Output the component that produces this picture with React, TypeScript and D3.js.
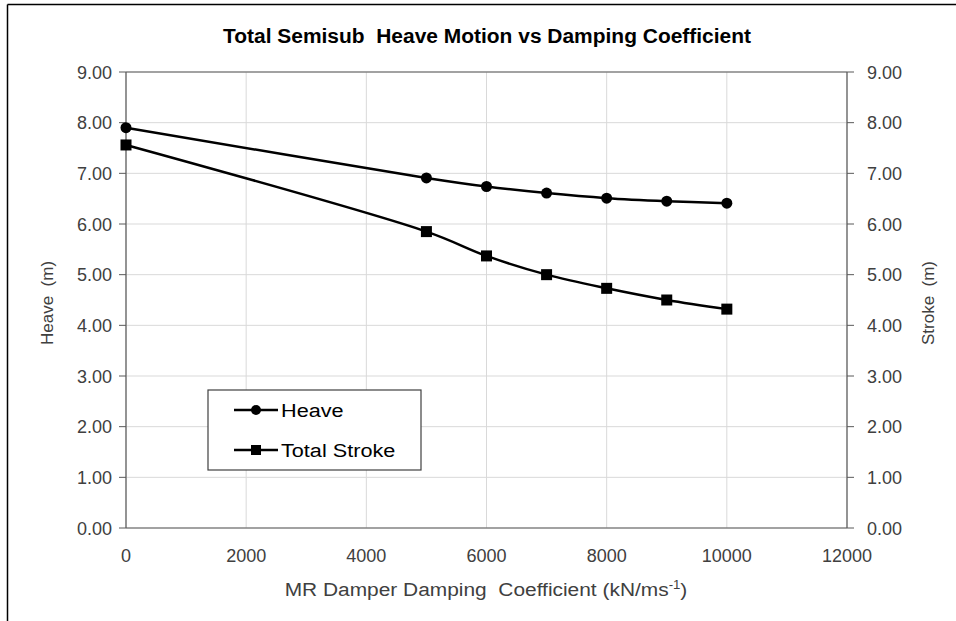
import React from "react";
import * as d3 from "d3";

const dampingCoeff = [0, 5000, 6000, 7000, 8000, 9000, 10000];
const heave = [7.9, 6.91, 6.74, 6.61, 6.51, 6.45, 6.41];
const totalStroke = [7.56, 5.85, 5.37, 5.0, 4.73, 4.5, 4.32];
const xTicks = [0, 2000, 4000, 6000, 8000, 10000, 12000];
const yTicks = [0, 1, 2, 3, 4, 5, 6, 7, 8, 9];

const W = 956;
const H = 621;
const left = 126;
const right = 847;
const top = 72;
const bottom = 528;
const font = "'Liberation Sans', Arial, sans-serif";
const axisColor = "#595959";
const gridColor = "#d9d9d9";
const textColor = "#404040";
const pre = { whiteSpace: "pre" as const };

export default function App() {
  const x = d3.scaleLinear().domain([0, 12000]).range([left, right]);
  const y = d3.scaleLinear().domain([0, 9]).range([bottom, top]);
  const line = d3
    .line<number>()
    .x((_, i) => x(dampingCoeff[i]))
    .y((v) => y(v))
    .curve(d3.curveCatmullRom.alpha(0.5));

  return (
    <svg
      width={W}
      height={H}
      style={{ position: "absolute", left: 0, top: 0, background: "#fff" }}
      fontFamily={font}
    >
      <rect x={0} y={0} width={W} height={H} fill="#fff" />
      {/* outer chart frame */}
      <line x1={7.5} y1={4.5} x2={W} y2={4.5} stroke="#000" strokeWidth={1.5} />
      <line x1={7.5} y1={4.5} x2={7.5} y2={H} stroke="#000" strokeWidth={1.5} />

      <text
        x={487}
        y={43}
        textAnchor="middle"
        fontSize={20}
        fontWeight="bold"
        fill="#000"
        textLength={528}
        lengthAdjust="spacingAndGlyphs"
        style={pre}
      >
        Total Semisub  Heave Motion vs Damping Coefficient
      </text>

      {/* grid */}
      {yTicks.map((t) => (
        <line key={"gy" + t} x1={left} x2={right} y1={y(t)} y2={y(t)} stroke={gridColor} strokeWidth={1} />
      ))}
      {xTicks.map((t) => (
        <line key={"gx" + t} x1={x(t)} x2={x(t)} y1={top} y2={bottom} stroke={gridColor} strokeWidth={1} />
      ))}

      {/* axes */}
      <line x1={left} x2={left} y1={top} y2={bottom} stroke={axisColor} strokeWidth={1.2} />
      <line x1={right} x2={right} y1={top} y2={bottom} stroke={axisColor} strokeWidth={1.2} />
      <line x1={left} x2={right} y1={top} y2={top} stroke={axisColor} strokeWidth={1.2} />
      <line x1={left} x2={right} y1={bottom} y2={bottom} stroke={axisColor} strokeWidth={1.2} />
      {yTicks.map((t) => (
        <g key={"ty" + t}>
          <line x1={left - 7} x2={left} y1={y(t)} y2={y(t)} stroke={axisColor} />
          <line x1={right} x2={right + 7} y1={y(t)} y2={y(t)} stroke={axisColor} />
          <text x={112} y={y(t) + 6.5} textAnchor="end" fontSize={18} fill={textColor}>
            {t.toFixed(2)}
          </text>
          <text x={867} y={y(t) + 6.5} textAnchor="start" fontSize={18} fill={textColor}>
            {t.toFixed(2)}
          </text>
        </g>
      ))}
      {xTicks.map((t) => (
        <text key={"tx" + t} x={x(t)} y={562} textAnchor="middle" fontSize={18} fill={textColor}>
          {t}
        </text>
      ))}

      <text
        transform={`translate(53,${(top + bottom) / 2 + 3}) rotate(-90)`}
        textAnchor="middle"
        fontSize={17}
        fill={textColor}
        style={pre}
      >
        Heave  (m)
      </text>
      <text
        transform={`translate(934,${(top + bottom) / 2 + 3}) rotate(-90)`}
        textAnchor="middle"
        fontSize={17}
        fill={textColor}
        style={pre}
      >
        Stroke  (m)
      </text>
      <text
        transform="translate(486,596) scale(1.1,1)"
        textAnchor="middle"
        fontSize={19}
        fill={textColor}
        style={pre}
      >
        MR Damper Damping  Coefficient (kN/ms
        <tspan fontSize={12} dy={-7}>-1</tspan>
        <tspan dy={7}>)</tspan>
      </text>

      {/* series */}
      <path d={line(heave) ?? ""} fill="none" stroke="#000" strokeWidth={2.5} />
      <path d={line(totalStroke) ?? ""} fill="none" stroke="#000" strokeWidth={2.5} />
      {heave.map((v, i) => (
        <circle key={"h" + i} cx={x(dampingCoeff[i])} cy={y(v)} r={5.5} fill="#000" />
      ))}
      {totalStroke.map((v, i) => (
        <rect key={"s" + i} x={x(dampingCoeff[i]) - 5.5} y={y(v) - 5.5} width={11} height={11} fill="#000" />
      ))}

      {/* legend */}
      <rect x={208} y={390} width={213} height={80} fill="#fff" stroke="#404040" strokeWidth={1.2} />
      <line x1={234} x2={278} y1={410} y2={410} stroke="#000" strokeWidth={2.5} />
      <circle cx={256} cy={410} r={5} fill="#000" />
      <text transform="translate(281,417) scale(1.14,1)" fontSize={19} fill="#000">Heave</text>
      <line x1={234} x2={278} y1={450} y2={450} stroke="#000" strokeWidth={2.5} />
      <rect x={251} y={445} width={10} height={10} fill="#000" />
      <text transform="translate(281,457) scale(1.14,1)" fontSize={19} fill="#000">Total Stroke</text>
    </svg>
  );
}
